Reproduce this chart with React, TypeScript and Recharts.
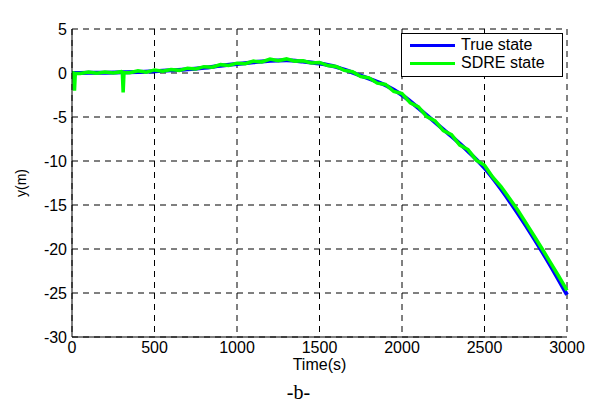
import React from 'react';
import { LineChart, Line, XAxis, YAxis, CartesianGrid, Legend, Label } from 'recharts';

const timeTicks = [0, 500, 1000, 1500, 2000, 2500, 3000];
const yTicks = [-30, -25, -20, -15, -10, -5, 0, 5];

// true state, every 100 s
const trueTime = [0, 100, 200, 300, 400, 500, 600, 700, 800, 900, 1000, 1100, 1200, 1300, 1400, 1500,
    1600, 1700, 1800, 1900, 2000, 2100, 2200, 2300, 2400, 2500, 2600, 2700, 2800, 2900, 3000];
const trueY = [0, 0.02, 0.04, 0.08, 0.12, 0.2, 0.3, 0.42, 0.6, 0.82, 1.02, 1.22, 1.4, 1.45, 1.3, 1.08,
    0.7, 0.05, -0.65, -1.4, -2.5, -4.0, -5.6, -7.2, -8.9, -10.8, -13.2, -15.9, -18.8, -21.9, -25.2];

// SDRE estimate (noisy, with two early spikes)
const sdreTime = [0, 10, 15, 20, 50, 100, 150, 200, 250, 300, 305, 310, 315, 350, 400, 450, 500, 550, 600,
    650, 700, 750, 800, 850, 900, 950, 1000, 1050, 1100, 1150, 1200, 1250, 1300, 1350, 1400, 1450, 1500,
    1550, 1600, 1650, 1700, 1750, 1800, 1850, 1900, 1950, 2000, 2050, 2100, 2150, 2200, 2250, 2300, 2350,
    2400, 2450, 2500, 2550, 2600, 2650, 2700, 2750, 2800, 2850, 2900, 2950, 3000];
const sdreY = [0.05, 0.0, -2.0, -0.05, -0.05, 0.1, -0.02, 0.12, 0.0, 0.15, 0.1, -2.2, 0.05, 0.02, 0.25, 0.1, 0.35, 0.2, 0.4,
    0.3, 0.55, 0.45, 0.72, 0.65, 0.95, 0.85, 1.12, 1.05, 1.35, 1.25, 1.58, 1.4, 1.6, 1.35, 1.38, 1.15, 1.2,
    0.85, 0.75, 0.3, 0.15, -0.4, -0.55, -1.15, -1.3, -2.1, -2.35, -3.4, -3.85, -4.95, -5.45, -6.55, -7.0, -8.2,
    -8.7, -9.9, -10.5, -11.85, -12.9, -14.2, -15.55, -17.0, -18.5, -20.0, -21.55, -23.1, -24.7];

const trueData = trueTime.map((t, i) => ({ t, y: trueY[i] }));
const sdreData = sdreTime.map((t, i) => ({ t, y: sdreY[i] }));

const FONT = '"Liberation Sans", Arial, sans-serif';
const tickStyle = { fill: '#000', fontSize: 16, fontFamily: FONT };

const LegendBox = () => (
    <div style={{
        width: 160, height: 40, border: '1px solid #000', background: '#fff',
        fontFamily: FONT, fontSize: 16, color: '#000', paddingTop: 2, boxSizing: 'content-box',
    }}>
        {[['True state', '#0000ff'], ['SDRE state', '#00ff00']].map(([name, color]) => (
            <div key={name} style={{ display: 'flex', alignItems: 'center', height: 18 }}>
                <div style={{ width: 45, height: 3, background: color, marginLeft: 8, marginRight: 6 }} />
                <span>{name}</span>
            </div>
        ))}
    </div>
);

export default function App() {
    return (
        <div style={{ position: 'absolute', left: 0, top: 0, width: 597, height: 407, background: '#fff' }}>
            <LineChart width={597} height={407} margin={{ top: 29, right: 30, left: 0, bottom: 0 }}>
                <CartesianGrid stroke="#000" strokeDasharray="6 5" />
                <XAxis
                    dataKey="t" type="number" domain={[0, 3000]} ticks={timeTicks} interval={0}
                    height={70} tick={tickStyle} tickLine={false} tickSize={3} tickMargin={2}
                    axisLine={{ stroke: '#000' }}
                >
                    <Label value="Time(s)" position="insideTop" offset={22} style={{ fill: '#000', fontSize: 16, fontFamily: FONT }} />
                </XAxis>
                <XAxis
                    xAxisId="top" orientation="top" type="number" domain={[0, 3000]} height={0}
                    tick={false} tickLine={false} axisLine={{ stroke: '#000' }}
                >
                    <Label value="Variable y(m)" position="top" offset={10} style={{ fill: '#000', fontSize: 16, fontFamily: FONT }} />
                </XAxis>
                <YAxis
                    type="number" domain={[-30, 5]} ticks={yTicks} interval={0} width={72}
                    tick={tickStyle} tickLine={false} tickSize={4} tickMargin={1}
                    axisLine={{ stroke: '#000' }}
                >
                    <Label value="y(m)" angle={-90} position="insideLeft" offset={21}
                        style={{ fill: '#000', fontSize: 14, fontFamily: FONT, textAnchor: 'middle' }} />
                </YAxis>
                <YAxis
                    yAxisId="right" orientation="right" type="number" domain={[-30, 5]} width={0}
                    tick={false} tickLine={false} axisLine={{ stroke: '#000' }}
                />
                <Legend
                    content={<LegendBox />} layout="horizontal" verticalAlign="middle" align="center"
                    wrapperStyle={{ left: 401, top: 33, width: 162, height: 42 }}
                />
                <Line
                    data={trueData} dataKey="y" name="True state" type="monotone"
                    stroke="#0000ff" strokeWidth={4} dot={false} isAnimationActive={false}
                />
                <Line
                    data={sdreData} dataKey="y" name="SDRE state" type="linear"
                    stroke="#00ff00" strokeWidth={3.5} dot={false} isAnimationActive={false}
                />
            </LineChart>
            <div style={{
                position: 'absolute', left: 0, top: 381, width: 597, textAlign: 'center',
                fontFamily: '"Liberation Serif", "Times New Roman", serif', fontSize: 20, color: '#000',
            }}>
                -b-
            </div>
        </div>
    );
}
